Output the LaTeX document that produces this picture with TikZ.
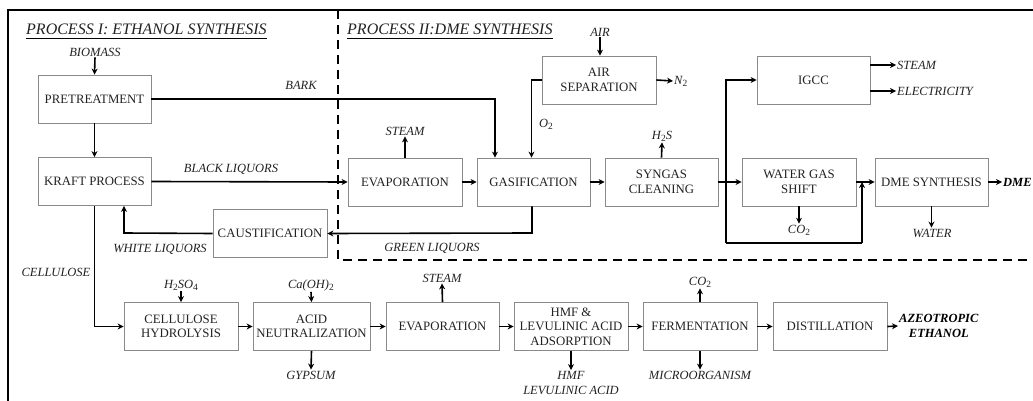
\documentclass[tikz,border=0pt]{standalone}
\usepackage{fontspec}
\setmainfont{Liberation Serif}
\usetikzlibrary{arrows.meta}
\definecolor{boxgray}{HTML}{8A8A8A}
\definecolor{boxtext}{HTML}{222222}
\newcommand\mysub[1]{\raisebox{-0.35ex}{\fontsize{9.5}{10}\selectfont\upshape #1}}
\begin{document}
\begin{tikzpicture}[x=1pt,y=-1pt,
 box/.style={draw=boxgray, line width=0.8pt, minimum height=48pt, inner sep=1pt, align=center, text=boxtext, font=\fontsize{12.8}{14.5}\selectfont},
 lab/.style={font=\fontsize{12.5}{15}\selectfont\itshape, inner sep=1pt, align=center, text=boxtext},
 blab/.style={lab, font=\fontsize{12.5}{15}\selectfont\itshape\bfseries, text=black},
 ttl/.style={font=\fontsize{16}{18}\selectfont\itshape, inner sep=0pt, anchor=base west, text=boxtext},
 arr/.style={line width=1.6pt, -{Stealth[length=6pt,width=6pt]}},
 ln/.style={line width=1.6pt},
 frame/.style={line width=1.3pt},
 sep/.style={line width=1.5pt, dash pattern=on 9pt off 6pt},
]
\useasboundingbox (0,0) rectangle (1033,401);
% frame and separator
\coordinate (fbl) at (8,405);
\coordinate (ftl) at (8,10);
\coordinate (ftr) at (1040,10);
\draw[frame] (fbl) -- (ftl) -- (ftr);
\coordinate (st) at (338,10);
\coordinate (sc) at (338,260);
\coordinate (se) at (1040,260);
\draw[sep] (st) -- (sc) -- (se);
% titles
\node[ttl] (t1) at (26,35) {PROCESS I: ETHANOL SYNTHESIS};
\draw[line width=0.8pt] (t1.base west) ++(0,3) coordinate (u1a) -- (u1a -| t1.base east);
\node[ttl] (t2) at (347,35) {PROCESS II:DME SYNTHESIS};
\draw[line width=0.8pt] (t2.base west) ++(0,3) coordinate (u2a) -- (u2a -| t2.base east);
% boxes
\node[box, minimum width=113pt] (pre) at (94.5,99) {PRETREATMENT};
\node[box, minimum width=113pt] (kraft) at (94.5,181.5) {KRAFT PROCESS};
\node[box, minimum width=114pt] (evap1) at (405,182) {EVAPORATION};
\node[box, minimum width=113pt] (gas) at (533.5,182) {GASIFICATION};
\node[box, minimum width=114pt] (air) at (599,80) {AIR\\SEPARATION};
\node[box, minimum width=113pt] (syn) at (661.5,182) {SYNGAS\\CLEANING};
\node[box, minimum width=113pt] (igcc) at (813.5,80) {IGCC};
\node[box, minimum width=114pt] (wgs) at (799,182) {WATER GAS\\SHIFT};
\node[box, minimum width=113pt] (dme) at (931.5,182) {DME SYNTHESIS};
\node[box, minimum width=114pt] (caus) at (270,233.5) {CAUSTIFICATION};
\node[box, minimum width=114pt] (ch) at (181,326.5) {CELLULOSE\\HYDROLYSIS};
\node[box, minimum width=117pt] (an) at (311.5,326.5) {ACID\\NEUTRALIZATION};
\node[box, minimum width=113pt] (evap2) at (442.5,326.5) {EVAPORATION};
\node[box, minimum width=114pt] (hmf) at (571,326.5) {HMF \&\\LEVULINIC ACID\\ADSORPTION};
\node[box, minimum width=114pt] (ferm) at (700,326.5) {FERMENTATION};
\node[box, minimum width=114pt] (dist) at (830,326.5) {DISTILLATION};
% labels
\node[lab] (biomass) at (95,52) {BIOMASS};
\node[lab] (bark) at (301,85) {BARK};
\node[lab] (black) at (231,169) {BLACK LIQUORS};
\node[lab] (white) at (160,249) {WHITE LIQUORS};
\node[lab] (cell) at (56,272) {CELLULOSE};
\node[lab] (green) at (432,248) {GREEN LIQUORS};
\node[lab] (steam1) at (405,131) {STEAM};
\node[lab] (airin) at (600,32) {AIR};
\node[lab, anchor=west] (n2) at (673,81) {N\mysub{2}};
\node[lab] (o2) at (546,124) {O\mysub{2}};
\node[lab] (h2s) at (662,136) {H\mysub{2}S};
\node[lab, anchor=west] (steamR) at (896,65) {STEAM};
\node[lab, anchor=west] (elec) at (896,91) {ELECTRICITY};
\node[lab] (co2a) at (799,230) {CO\mysub{2}};
\node[lab] (water) at (932,233) {WATER};
\node[blab, anchor=west] (dmeout) at (1002,182) {DME};
\node[lab] (h2so4) at (181,285) {H\mysub{2}SO\mysub{4}};
\node[lab] (caoh) at (311,285) {Ca(OH)\mysub{2}};
\node[lab] (gyp) at (311,375) {GYPSUM};
\node[lab] (steam2) at (442,278) {STEAM};
\node[lab] (hmfout) at (571,383) {HMF\\LEVULINIC ACID};
\node[lab] (co2b) at (700,282) {CO\mysub{2}};
\node[lab] (micro) at (700,375) {MICROORGANISM};
\node[blab, anchor=west] (azeo) at (898,326) {AZEOTROPIC\\ETHANOL};
% helper coordinates
\coordinate (barkc) at (495,99);
\coordinate (o2c) at (531.5,80);
\coordinate (greenc) at (532,233);
\coordinate (whitec) at (124,233);
\coordinate (cellc) at (94.5,326.5);
\coordinate (jtop) at (726,80);
\coordinate (jbot) at (726,243);
\coordinate (bpb) at (862,243);
\coordinate (bpt) at (862,182);
% connectors
\draw[arr] (biomass.south) -- (pre.north);
\draw[arr] (pre.south) -- (kraft.north);
\draw[arr] (pre.east) -- (barkc) -- (barkc |- gas.north);
\draw[arr] (kraft.east) -- (evap1.west);
\draw[arr] (evap1.north) -- (steam1.south);
\draw[arr] (evap1.east) -- (gas.west);
\draw[arr] (airin.south) -- (airin.south |- air.north);
\draw[arr] (air.east) -- (n2.west);
\draw[arr] (air.west) -- (o2c) -- (o2c |- gas.north);
\draw[arr] (gas.east) -- (syn.west);
\draw[arr] (syn.north) -- (h2s.south);
\draw[arr] (syn.east) -- (wgs.west);
\draw[arr] (jbot) -- (jtop) -- (igcc.west |- jtop);
\draw[ln] (jbot) -- (bpb);
\draw[arr] (bpb) -- (bpt);
\draw[arr] (igcc.east |- steamR) -- (steamR.west);
\draw[arr] (igcc.east |- elec) -- (elec.west);
\draw[arr] (wgs.east) -- (dme.west);
\draw[arr] (wgs.south) -- (co2a.north);
\draw[arr] (dme.east) -- (dmeout.west);
\draw[arr] (dme.south) -- (dme.south |- water.north);
\draw[arr] (gas.south -| greenc) -- (greenc) -- (caus.east);
\draw[arr] (caus.west) -- (whitec) -- (whitec |- kraft.south);
\draw[arr] (kraft.south) -- (cellc) -- (ch.west);
\draw[arr] (h2so4.south) -- (ch.north);
\draw[arr] (ch.east) -- (an.west);
\draw[arr] (caoh.south) -- (an.north);
\draw[arr] (an.south) -- (gyp.north);
\draw[arr] (an.east) -- (evap2.west);
\draw[arr] (evap2.north) -- (steam2.south);
\draw[arr] (evap2.east) -- (hmf.west);
\draw[arr] (hmf.south) -- (hmfout.north);
\draw[arr] (hmf.east) -- (ferm.west);
\draw[arr] (ferm.north) -- (co2b.south);
\draw[arr] (ferm.south) -- (micro.north);
\draw[arr] (ferm.east) -- (dist.west);
\draw[arr] (dist.east) -- (azeo.west);
\end{tikzpicture}
\end{document}
